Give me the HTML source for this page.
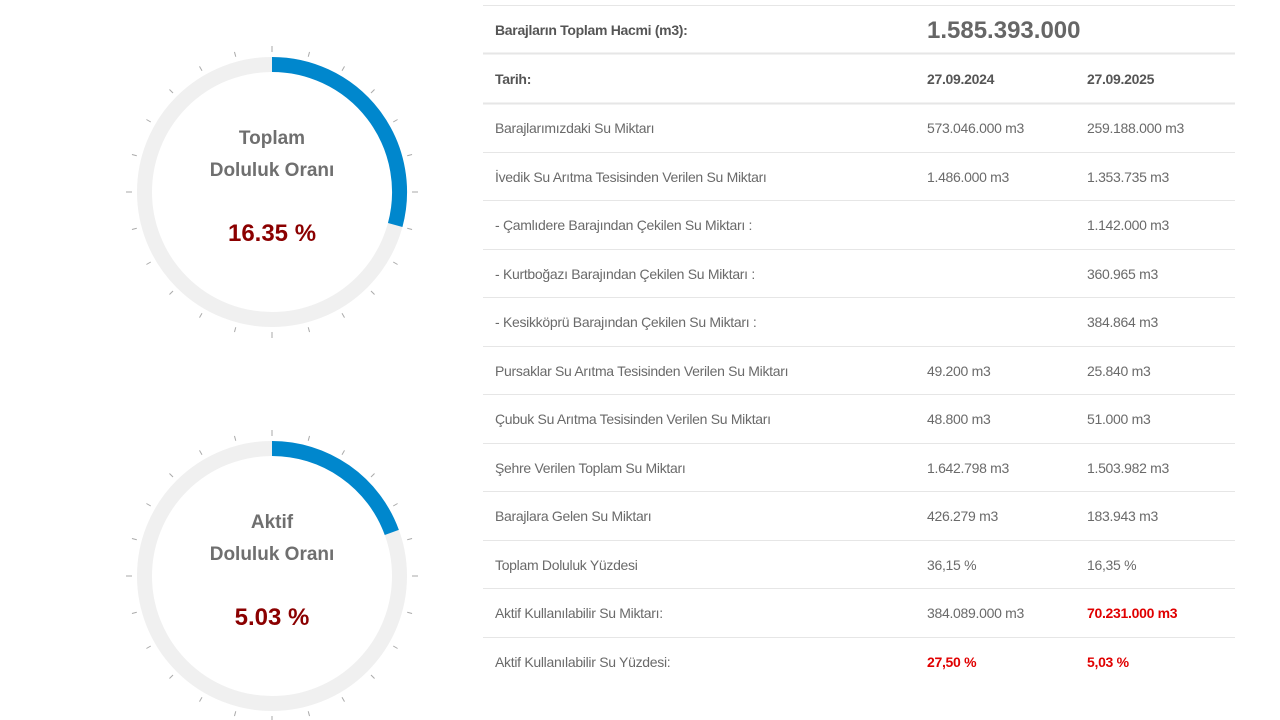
<!DOCTYPE html>
<html><head><meta charset="utf-8"><style>
html,body{margin:0;padding:0;background:#fff;width:1280px;height:720px;overflow:hidden}
svg{display:block}
text{font-family:"Liberation Sans",sans-serif;}
.t{font-size:14px;fill:#6a6a6a;letter-spacing:-0.3px}
.b{font-size:14px;fill:#555;font-weight:bold;letter-spacing:-0.3px}
.r{font-size:14px;fill:#e00000;font-weight:bold;letter-spacing:-0.3px}
</style></head><body>
<svg width="1280" height="720" viewBox="0 0 1280 720">
<defs>
<g id="ticks" stroke="#aaa" stroke-width="1">
<line x1="0" y1="-140" x2="0" y2="-146" transform="rotate(0)"/><line x1="0" y1="-140" x2="0" y2="-145" transform="rotate(15)"/><line x1="0" y1="-140" x2="0" y2="-145" transform="rotate(30)"/><line x1="0" y1="-140" x2="0" y2="-145" transform="rotate(45)"/><line x1="0" y1="-140" x2="0" y2="-145" transform="rotate(60)"/><line x1="0" y1="-140" x2="0" y2="-145" transform="rotate(75)"/><line x1="0" y1="-140" x2="0" y2="-146" transform="rotate(90)"/><line x1="0" y1="-140" x2="0" y2="-145" transform="rotate(105)"/><line x1="0" y1="-140" x2="0" y2="-145" transform="rotate(120)"/><line x1="0" y1="-140" x2="0" y2="-145" transform="rotate(135)"/><line x1="0" y1="-140" x2="0" y2="-145" transform="rotate(150)"/><line x1="0" y1="-140" x2="0" y2="-145" transform="rotate(165)"/><line x1="0" y1="-140" x2="0" y2="-146" transform="rotate(180)"/><line x1="0" y1="-140" x2="0" y2="-145" transform="rotate(195)"/><line x1="0" y1="-140" x2="0" y2="-145" transform="rotate(210)"/><line x1="0" y1="-140" x2="0" y2="-145" transform="rotate(225)"/><line x1="0" y1="-140" x2="0" y2="-145" transform="rotate(240)"/><line x1="0" y1="-140" x2="0" y2="-145" transform="rotate(255)"/><line x1="0" y1="-140" x2="0" y2="-146" transform="rotate(270)"/><line x1="0" y1="-140" x2="0" y2="-145" transform="rotate(285)"/><line x1="0" y1="-140" x2="0" y2="-145" transform="rotate(300)"/><line x1="0" y1="-140" x2="0" y2="-145" transform="rotate(315)"/><line x1="0" y1="-140" x2="0" y2="-145" transform="rotate(330)"/><line x1="0" y1="-140" x2="0" y2="-145" transform="rotate(345)"/>
</g>
</defs>
<!-- gauge 1 -->
<g transform="translate(272,192)">
<use href="#ticks"/>
<circle r="127.5" fill="none" stroke="#f0f0f0" stroke-width="15"/>
<path d="M0,-127.5 A127.5,127.5 0 0 1 123.2,33" fill="none" stroke="#0087cd" stroke-width="15"/>
<text x="0" y="-48" text-anchor="middle" font-size="19" font-weight="bold" fill="#6f6f6f">Toplam</text>
<text x="0" y="-16" text-anchor="middle" font-size="19" font-weight="bold" fill="#6f6f6f">Doluluk Oranı</text>
<text x="0" y="49" text-anchor="middle" font-size="24" font-weight="bold" fill="#8b0000">16.35 %</text>
</g>
<!-- gauge 2 -->
<g transform="translate(272,576)">
<use href="#ticks"/>
<circle r="127.5" fill="none" stroke="#f0f0f0" stroke-width="15"/>
<path d="M0,-127.5 A127.5,127.5 0 0 1 119.8,-43.6" fill="none" stroke="#0087cd" stroke-width="15"/>
<text x="0" y="-48" text-anchor="middle" font-size="19" font-weight="bold" fill="#6f6f6f">Aktif</text>
<text x="0" y="-16" text-anchor="middle" font-size="19" font-weight="bold" fill="#6f6f6f">Doluluk Oranı</text>
<text x="0" y="49" text-anchor="middle" font-size="24" font-weight="bold" fill="#8b0000">5.03 %</text>
</g>
<!-- table lines -->
<g stroke="#e6e6e6" stroke-width="1">
<line x1="483" y1="5.5" x2="1235" y2="5.5"/>
<line x1="483" y1="53.5" x2="1235" y2="53.5" stroke-width="2"/>
<line x1="483" y1="103.5" x2="1235" y2="103.5" stroke-width="2"/>
<line x1="483" y1="152.5" x2="1235" y2="152.5"/>
<line x1="483" y1="200.5" x2="1235" y2="200.5"/>
<line x1="483" y1="249.5" x2="1235" y2="249.5"/>
<line x1="483" y1="297.5" x2="1235" y2="297.5"/>
<line x1="483" y1="346.5" x2="1235" y2="346.5"/>
<line x1="483" y1="394.5" x2="1235" y2="394.5"/>
<line x1="483" y1="443.5" x2="1235" y2="443.5"/>
<line x1="483" y1="491.5" x2="1235" y2="491.5"/>
<line x1="483" y1="540.5" x2="1235" y2="540.5"/>
<line x1="483" y1="588.5" x2="1235" y2="588.5"/>
<line x1="483" y1="637.5" x2="1235" y2="637.5"/>
</g>
<text class="b" x="495" y="35">Barajların Toplam Hacmi (m3):</text>
<text x="927" y="38" font-size="24" font-weight="bold" fill="#666">1.585.393.000</text>
<text class="b" x="495" y="84">Tarih:</text>
<text class="b" x="927" y="84">27.09.2024</text>
<text class="b" x="1087" y="84">27.09.2025</text>
<text class="t" x="495" y="133">Barajlarımızdaki Su Miktarı</text>
<text class="t" x="927" y="133">573.046.000 m3</text>
<text class="t" x="1087" y="133">259.188.000 m3</text>
<text class="t" x="495" y="182">İvedik Su Arıtma Tesisinden Verilen Su Miktarı</text>
<text class="t" x="927" y="182">1.486.000 m3</text>
<text class="t" x="1087" y="182">1.353.735 m3</text>
<text class="t" x="495" y="230">- Çamlıdere Barajından Çekilen Su Miktarı :</text>
<text class="t" x="1087" y="230">1.142.000 m3</text>
<text class="t" x="495" y="279">- Kurtboğazı Barajından Çekilen Su Miktarı :</text>
<text class="t" x="1087" y="279">360.965 m3</text>
<text class="t" x="495" y="327">- Kesikköprü Barajından Çekilen Su Miktarı :</text>
<text class="t" x="1087" y="327">384.864 m3</text>
<text class="t" x="495" y="376">Pursaklar Su Arıtma Tesisinden Verilen Su Miktarı</text>
<text class="t" x="927" y="376">49.200 m3</text>
<text class="t" x="1087" y="376">25.840 m3</text>
<text class="t" x="495" y="424">Çubuk Su Arıtma Tesisinden Verilen Su Miktarı</text>
<text class="t" x="927" y="424">48.800 m3</text>
<text class="t" x="1087" y="424">51.000 m3</text>
<text class="t" x="495" y="473">Şehre Verilen Toplam Su Miktarı</text>
<text class="t" x="927" y="473">1.642.798 m3</text>
<text class="t" x="1087" y="473">1.503.982 m3</text>
<text class="t" x="495" y="521">Barajlara Gelen Su Miktarı</text>
<text class="t" x="927" y="521">426.279 m3</text>
<text class="t" x="1087" y="521">183.943 m3</text>
<text class="t" x="495" y="570">Toplam Doluluk Yüzdesi</text>
<text class="t" x="927" y="570">36,15 %</text>
<text class="t" x="1087" y="570">16,35 %</text>
<text class="t" x="495" y="618">Aktif Kullanılabilir Su Miktarı:</text>
<text class="t" x="927" y="618">384.089.000 m3</text>
<text class="r" x="1087" y="618">70.231.000 m3</text>
<text class="t" x="495" y="667">Aktif Kullanılabilir Su Yüzdesi:</text>
<text class="r" x="927" y="667">27,50 %</text>
<text class="r" x="1087" y="667">5,03 %</text>
</svg>
</body></html>
